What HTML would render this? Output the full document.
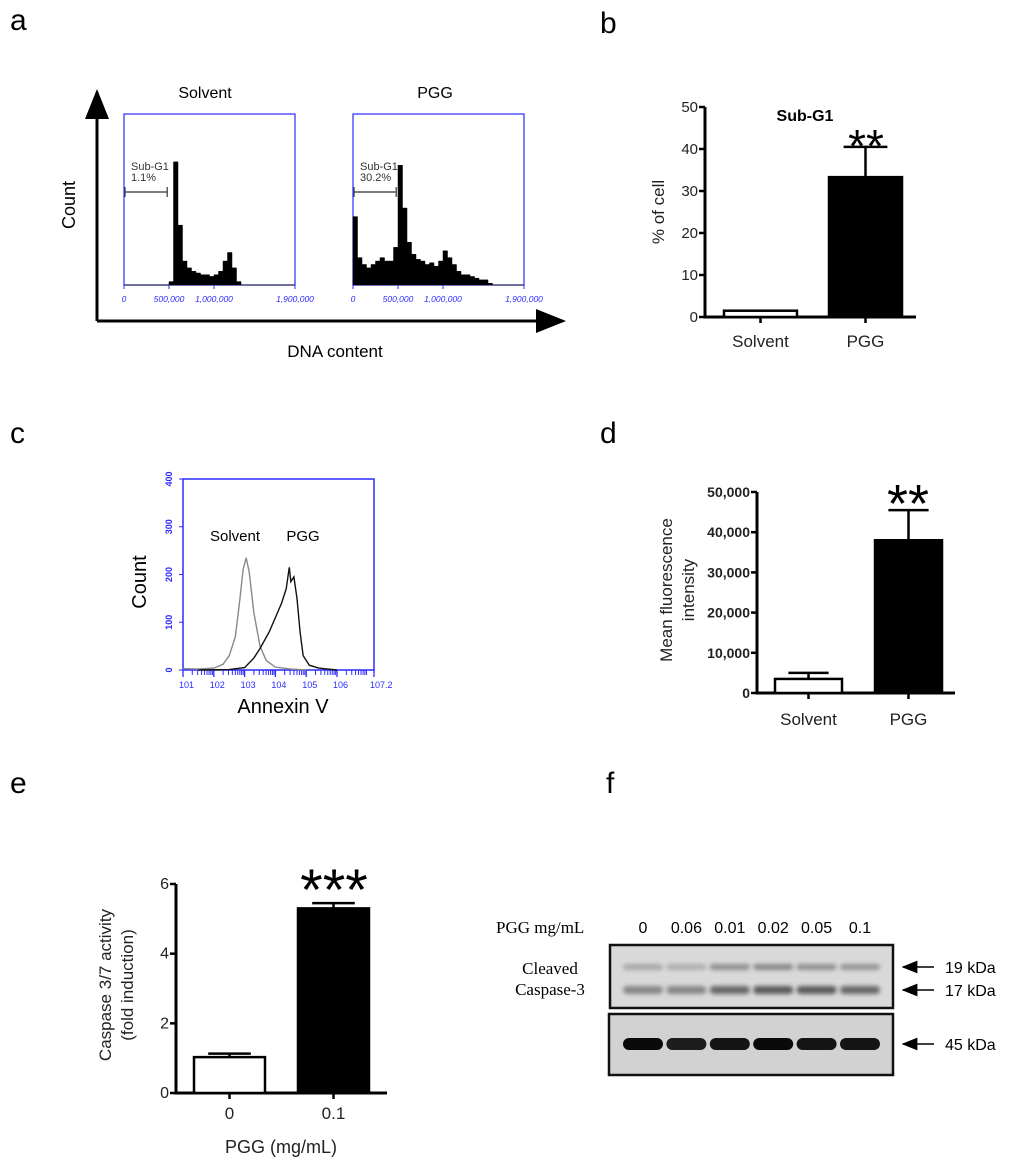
<!DOCTYPE html>
<html><head><meta charset="utf-8"><style>
html,body{margin:0;padding:0;background:#fff;}
svg{display:block;font-family:"Liberation Sans",sans-serif;}
</style></head><body>
<svg id="fig" width="1024" height="1164" viewBox="0 0 1024 1164">
<defs><filter id="blur" x="-30%" y="-100%" width="160%" height="300%"><feGaussianBlur stdDeviation="2.2"/></filter>
<marker id="ah" markerWidth="10" markerHeight="10" refX="9" refY="5" orient="auto"><path d="M0,1 L10,5 L0,9 z" fill="#000"/></marker></defs>
<text x="10" y="30" font-size="30">a</text>
<text x="600" y="33" font-size="30">b</text>
<text x="10" y="443" font-size="30">c</text>
<text x="600" y="443" font-size="30">d</text>
<text x="10" y="793" font-size="30">e</text>
<text x="606" y="793" font-size="30">f</text>
<g id="pa"></g>
<g id="pb"></g>
<g id="pc"></g>
<g id="pd"></g>
<g id="pe"></g>
<g id="pf"></g>
</svg>
<script>
// ---- data ----
const histBinsK = 50; // bin width (thousands)
const solventHist = [0,0,0,0,0,0,0,0,0,0,2,72,35,14,10,8,7,6,6,5,6,8,14,19,10,2,0,0,0,0,0,0,0,0,0,0,0,0];
const pggHist = [40,16,12,10,12,14,16,14,14,22,70,45,25,18,15,14,12,13,11,14,20,16,12,8,6,6,5,4,3,3,1,0,0,0,0,0,0,0];
const histTicks = [0,500000,1000000,1900000];
const histTickLabels = ["0","500,000","1,000,000","1,900,000"];
const subG1Cats = ["Solvent","PGG"];
const subG1Vals = [1.5,33.3];
const subG1Err = [0,7.2];
const subG1Ticks = [0,10,20,30,40,50];
const annexLogX = [1.0,1.5,2.0,2.3,2.5,2.7,2.85,2.95,3.05,3.15,3.3,3.5,3.7,4.0,4.5,5.0];
const annexSolvent = [3,2,4,12,30,70,150,210,235,205,120,50,20,6,2,0];
const annexPggLogX = [1.5,2.5,3.0,3.3,3.5,3.8,4.0,4.2,4.35,4.45,4.5,4.6,4.7,4.8,4.9,5.1,5.4,5.7,6.0];
const annexPgg = [0,1,5,25,45,80,110,140,170,215,185,195,150,80,30,10,4,2,0];
const annexYTicks = [0,100,200,300,400];
const annexXTicks = [1,2,3,4,5,6,7.2];
const mfiCats = ["Solvent","PGG"];
const mfiVals = [3500,38000];
const mfiErr = [1500,7500];
const mfiTicks = [0,10000,20000,30000,40000,50000];
const mfiTickLabels = ["0","10,000","20,000","30,000","40,000","50,000"];
const caspCats = ["0","0.1"];
const caspVals = [1.03,5.3];
const caspErr = [0.1,0.15];
const caspTicks = [0,2,4,6];
const laneLabels = ["0","0.06","0.01","0.02","0.05","0.1"];
const band19 = [0.25,0.2,0.45,0.5,0.45,0.4];
const band17 = [0.5,0.5,0.75,0.85,0.85,0.75];
const band45 = [1.0,0.9,0.95,1.0,0.95,0.95];

const NS="http://www.w3.org/2000/svg";
function mk(tag,attrs,parent,txt){const e=document.createElementNS(NS,tag);for(const k in attrs)e.setAttribute(k,attrs[k]);if(txt!==undefined)e.textContent=txt;parent.appendChild(e);return e;}
const BLUE="#2b2bff";

// ---- panel a ----
(function(){
 const g=document.getElementById('pa');
 let e=mk('line',{x1:97,y1:321,x2:97,y2:92,stroke:'#000','stroke-width':3,'marker-end':'url(#ah)'},g);
 
 e=mk('line',{x1:97,y1:321,x2:563,y2:321,stroke:'#000','stroke-width':3,'marker-end':'url(#ah)'},g);
 
 e=mk('text',{x:75,y:205,'font-size':18,'text-anchor':'middle',transform:'rotate(-90 75 205)'},g,'Count');
 
 e=mk('text',{x:335,y:357,'font-size':17,'text-anchor':'middle'},g,'DNA content');
 
 const boxes=[{x0:124,name:'Solvent',data:solventHist,pct:'1.1%',tx:205},{x0:353,name:'PGG',data:pggHist,pct:'30.2%',tx:435}];
 boxes.forEach((b,bi)=>{
  const W=171,T=114,B=285,H=B-T;
  const xs=v=>b.x0+v/1900000*W, ys=v=>B-v/100*H;
  const bg=mk('g',{},g);
  
  let t=mk('text',{x:b.tx,y:98,'font-size':16,'text-anchor':'middle'},bg,b.name);
  
  let r=mk('rect',{x:b.x0,y:T,width:W,height:H,fill:'none',stroke:BLUE,'stroke-width':1.2},bg);
  
  let d='M'+xs(0)+','+B;
  b.data.forEach((v,i)=>{const x1=xs(i*histBinsK*1000),x2=xs((i+1)*histBinsK*1000);d+=' L'+x1+','+ys(v)+' L'+x2+','+ys(v);});
  d+=' L'+xs(1900000)+','+B+' Z';
  let p=mk('path',{d:d,fill:'#000',stroke:'#000','stroke-width':0.5},bg);
  
  histTicks.forEach((tv,i)=>{
   let tl=mk('line',{x1:xs(tv),y1:B,x2:xs(tv),y2:B+4,stroke:BLUE},bg);
   
   let tt=mk('text',{x:xs(tv),y:302,'font-size':8.5,fill:BLUE,'text-anchor':'middle','font-style':'italic'},bg,histTickLabels[i]);
   
  });
  const gx1=xs(0)+1,gx2=xs(480000),gy=192;
  let gm=mk('path',{d:`M${gx1},${gy-5}V${gy+5}M${gx1},${gy}H${gx2}M${gx2},${gy-5}V${gy+5}`,stroke:'#333','stroke-width':1.2,fill:'none'},bg);
  
  let gt=mk('text',{x:gx1+6,y:170,'font-size':11,fill:'#333'},bg,'Sub-G1');
  
  let gp=mk('text',{x:gx1+6,y:181,'font-size':11,fill:'#333'},bg,b.pct);
  
 });
})();

// ---- generic bar chart ----
function barChart(gid,o){
 const g=document.getElementById(gid);
 const ys=v=>o.y0-(v-o.ticks[0])/(o.ticks[o.ticks.length-1]-o.ticks[0])*(o.y0-o.y1);
 let e=mk('line',{x1:o.ax,y1:o.y1,x2:o.ax,y2:o.y0+1.5,stroke:'#000','stroke-width':3},g);
 
 e=mk('line',{x1:o.ax-1.5,y1:o.y0,x2:o.xend,y2:o.y0,stroke:'#000','stroke-width':3},g);
 
 o.ticks.forEach((t,i)=>{
  let l=mk('line',{x1:o.ax-6,y1:ys(t),x2:o.ax,y2:ys(t),stroke:'#000','stroke-width':2.5},g);
  
  let tx=mk('text',{x:o.ax-7,y:ys(t)+5,'font-size':o.tfs,'text-anchor':'end','font-weight':o.tbold?'bold':'normal',fill:'#222'},g,o.tlabels?o.tlabels[i]:String(t));
  
 });
 o.cats.forEach((c,i)=>{
  const x=o.bx[i],w=o.bw,cx=x+w/2;
  if(o.err[i]>0){
   let el=mk('path',{d:`M${cx},${ys(o.vals[i])}V${ys(o.vals[i]+o.err[i])}M${cx-w*0.3},${ys(o.vals[i]+o.err[i])}H${cx+w*0.3}`,stroke:'#000','stroke-width':2.5,fill:'none'},g);
   
  }
  let r=mk('rect',{x:x,y:ys(o.vals[i]),width:w,height:o.y0-ys(o.vals[i]),fill:i==0?'#fff':'#000',stroke:'#000','stroke-width':2.5},g);
  
  let tk=mk('line',{x1:cx,y1:o.y0,x2:cx,y2:o.y0+6,stroke:'#000','stroke-width':2.5},g);
  
  let lb=mk('text',{x:cx,y:o.xly,'font-size':o.xfs,'text-anchor':'middle',fill:'#222'},g,c);
  
 });
 return {g,ys};
}

// panel b
(function(){
 const r=barChart('pb',{ax:705,y0:317,y1:107,xend:916,ticks:subG1Ticks,tfs:15,cats:subG1Cats,vals:subG1Vals,err:subG1Err,bx:[724,829],bw:73,xly:347,xfs:17});
 let e=mk('text',{x:805,y:121,'font-size':16,'font-weight':'bold','text-anchor':'middle'},r.g,'Sub-G1');
 
 e=mk('text',{x:866,y:162,'font-size':46,'text-anchor':'middle'},r.g,'**');
 
 e=mk('text',{x:664,y:212,'font-size':17,'text-anchor':'middle',transform:'rotate(-90 664 212)',fill:'#222'},r.g,'% of cell');
 
})();

// panel c
(function(){
 const g=document.getElementById('pc');
 const X0=183,X1=374,T=479,B=670;
 const xs=v=>X0+(v-1)/6.2*(X1-X0), ys=v=>B-v/400*(B-T);
 let e=mk('rect',{x:X0,y:T,width:X1-X0,height:B-T,fill:'none',stroke:BLUE,'stroke-width':1.5},g);
 
 annexYTicks.forEach(t=>{
  let l=mk('line',{x1:X0-4,y1:ys(t),x2:X0,y2:ys(t),stroke:BLUE},g);
  
  let tx=mk('text',{x:172,y:ys(t),'font-size':9,fill:BLUE,'text-anchor':'middle',transform:`rotate(-90 172 ${ys(t)})`,'font-weight':'bold'},g,String(t));
  
 });
 annexXTicks.forEach(t=>{
  let l=mk('line',{x1:xs(t),y1:B,x2:xs(t),y2:B+7,stroke:BLUE,'stroke-width':1.3},g);
  
  if(t<7){for(let k=2;k<10;k++){const m=t+Math.log10(k);let ml=mk('line',{x1:xs(m),y1:B,x2:xs(m),y2:B+5,stroke:BLUE},g);}}
  let tx=mk('text',{x:xs(t)-4,y:688,'font-size':9,fill:BLUE},g,'10'+(t==7.2?'7.2':t));
  
 });
 function line(xa,ya,col,name){
  let d=xa.map((x,i)=>(i?'L':'M')+xs(x)+','+ys(ya[i])).join(' ');
  let p=mk('path',{d:d,fill:'none',stroke:col,'stroke-width':1.4},g);
  
 }
 line(annexLogX,annexSolvent,'#888','line-solvent');
 line(annexPggLogX,annexPgg,'#111','line-pgg');
 e=mk('text',{x:235,y:541,'font-size':15,'text-anchor':'middle'},g,'Solvent');
 
 e=mk('text',{x:303,y:541,'font-size':15,'text-anchor':'middle'},g,'PGG');
 
 e=mk('text',{x:146,y:582,'font-size':20,'text-anchor':'middle',transform:'rotate(-90 146 582)'},g,'Count');
 
 e=mk('text',{x:283,y:713,'font-size':20,'text-anchor':'middle'},g,'Annexin V');
 
})();

// panel d
(function(){
 const r=barChart('pd',{ax:757,y0:693,y1:492,xend:955,ticks:mfiTicks,tlabels:mfiTickLabels,tfs:14,tbold:true,cats:mfiCats,vals:mfiVals,err:mfiErr,bx:[775,875],bw:67,xly:725,xfs:17});
 let e=mk('text',{x:908,y:522,'font-size':54,'text-anchor':'middle'},r.g,'**');
 
 e=mk('text',{x:672,y:590,'font-size':17,'text-anchor':'middle',transform:'rotate(-90 672 590)',fill:'#222'},r.g,'Mean fluorescence');
 
 e=mk('text',{x:694,y:590,'font-size':17,'text-anchor':'middle',transform:'rotate(-90 694 590)',fill:'#222'},r.g,'intensity');
 
})();

// panel e
(function(){
 const r=barChart('pe',{ax:176,y0:1093,y1:884,xend:387,ticks:caspTicks,tfs:16,cats:caspCats,vals:caspVals,err:caspErr,bx:[194,298],bw:71,xly:1119,xfs:17});
 let e=mk('text',{x:334,y:910,'font-size':58,'text-anchor':'middle'},r.g,'***');
 
 e=mk('text',{x:111,y:985,'font-size':17,'text-anchor':'middle',transform:'rotate(-90 111 985)',fill:'#222'},r.g,'Caspase 3/7 activity');
 
 e=mk('text',{x:133,y:985,'font-size':17,'text-anchor':'middle',transform:'rotate(-90 133 985)',fill:'#222'},r.g,'(fold induction)');
 
 e=mk('text',{x:281,y:1153,'font-size':18,'text-anchor':'middle',fill:'#222'},r.g,'PGG (mg/mL)');
 
})();

// panel f
(function(){
 const g=document.getElementById('pf');
 const laneX=i=>643+i*43.4;
 let e=mk('text',{x:496,y:933,'font-size':17,'font-family':'Liberation Serif, serif'},g,'PGG mg/mL');
 
 laneLabels.forEach((l,i)=>{
  let t=mk('text',{x:laneX(i),y:933,'font-size':16,'text-anchor':'middle'},g,l);
  
 });
 e=mk('rect',{x:610,y:945,width:283,height:63,fill:'#d9d9d9',stroke:'#111','stroke-width':2.5},g);
 
 e=mk('rect',{x:609,y:1014,width:284,height:61,fill:'#d2d2d2',stroke:'#111','stroke-width':2.5},g);
 
 function bands(arr,y,h,name,solid){
  arr.forEach((v,i)=>{
   const c=Math.round(200-v*(solid?190:130));
   let b=mk('rect',{x:laneX(i)-20,y:y-h/2,width:40,height:h,rx:h/2,fill:`rgb(${c},${c},${c})`,filter:solid?'':'url(#blur)'},g);
   
  });
 }
 bands(band19,967,6,'band-19kda',false);
 bands(band17,990,8,'band-17kda',false);
 bands(band45,1044,12,'band-45kda',true);
 e=mk('text',{x:550,y:974,'font-size':17,'text-anchor':'middle','font-family':'Liberation Serif, serif'},g,'Cleaved');
 
 e=mk('text',{x:550,y:995,'font-size':17,'text-anchor':'middle','font-family':'Liberation Serif, serif'},g,'Caspase-3');
 
 [[967,'19 kDa'],[990,'17 kDa'],[1044,'45 kDa']].forEach(a=>{
  let ar=mk('line',{x1:934,y1:a[0],x2:903,y2:a[0],stroke:'#000','stroke-width':1.6,'marker-end':'url(#ah)'},g);
  
  let t=mk('text',{x:945,y:a[0]+6,'font-size':16},g,a[1]);
  
 });
})();
</script>
</body></html>
